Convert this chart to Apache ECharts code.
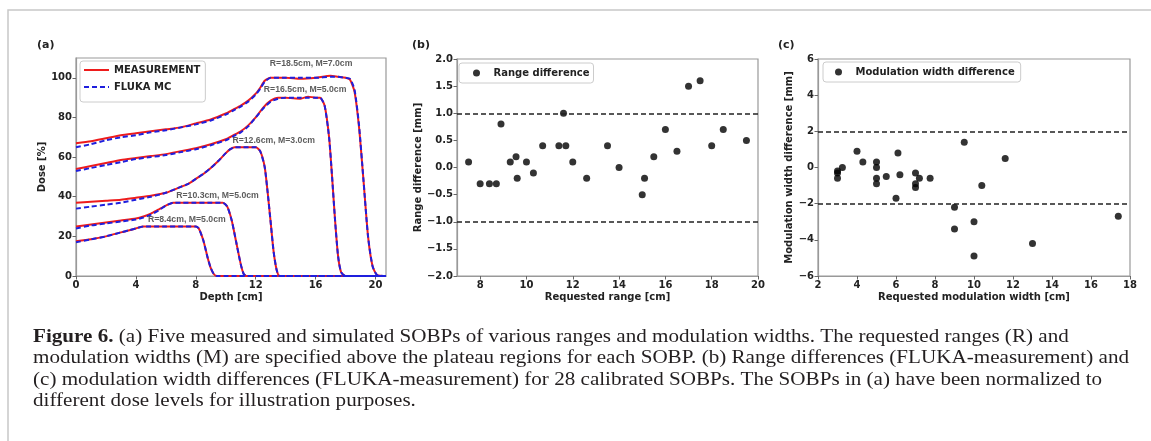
<!DOCTYPE html>
<html><head><meta charset="utf-8">
<script src="https://cdn.jsdelivr.net/npm/echarts@6/dist/echarts.min.js"></script>
<style>html,body{margin:0;padding:0;background:#fff}#c{width:1151px;height:441px}</style>
</head><body><div id="c"></div>
<script>
// ---------- Panel (a): SOBP depth-dose curves ----------
const depthA = [0,1,2,3,4,5,6,7,8,9,10,10.5,11,11.5,12,12.3,12.6,13,14,15,16,17,17.5,18,18.3,18.6,18.9,19.2,19.5,19.8,20.1,20.7];
const measA  = [67,68,69.5,71,72,73,74,75,77,79,82,84,86,88.5,92,95,98.5,100,100,99.5,100,101,100.5,100,99,93,75,48,20,5,0.5,0];
const flukaA = [65,66.5,68.5,70,71,72.5,73.5,75,76.5,78.5,81.5,83.5,85.5,88,91.5,94.5,98,100,100,100,100,100.5,100.5,100,99.5,94,76,48,20,5,0.5,0];

const depthB = [0,1,2,3,4,5,6,7,8,9,10,10.5,11,11.5,12,12.5,13,13.5,14,15,15.5,16,16.3,16.6,16.9,17.1,17.3,17.5,17.7,18,20.7];
const measB  = [54,55.5,57,58.5,59.5,60.5,61.5,63,64.5,66.5,69,71,73,76,80,85,88.5,90,90,89.5,90.5,90,90,86,70,50,28,10,2,0,0];
const flukaB = [53,54.5,56,57.5,59,60,61,62.5,64,66,68.5,70.5,72.5,75.5,80,84.5,88,89.5,90,90,90,90,90,86,70,50,28,10,2,0,0];

const depthC = [0,1,2,3,4,5,6,7,7.5,8,8.5,9,9.5,10,10.3,10.6,11,11.5,12,12.3,12.6,12.8,13,13.2,13.4,13.6,20.7];
const measC  = [37,37.5,38,38.5,39.5,40.5,42,45,46.5,49,51.5,54.5,58,62,64,65,65,65,65,63,55,42,27,12,3,0,0];
const flukaC = [34,35,36,37,38.5,40,42,45,46.5,49,51.5,54.5,58,62,64,65,65,65,65,63,55,42,27,12,3,0,0];

const depthD = [0,1,2,3,4,4.5,5,5.5,6,6.5,7,8,9,9.8,10.1,10.4,10.7,11,11.2,11.4,20.7];
const measD  = [25,26,27,28,29,30,31.5,33.5,35.5,37,37,37,37,37,35,28,17,6,1,0,0];
const flukaD = [24,25.5,26.5,27.5,28.5,29.5,31,33,35.5,37,37,37,37,37,35,28,17,6,1,0,0];

const depthE = [0,1,2,3,3.5,4,4.5,5,6,7,8,8.2,8.5,8.8,9.0,9.2,9.4,20.7];
const measE  = [17.5,18.5,20,22,23,24,25,25,25,25,25,24,18,9,4,1,0,0];
const flukaE = [17,18.5,20,22,23,24,25,25,25,25,25,24,18,9,4,1,0,0];

const sobpLabels = ['R=18.5cm, M=7.0cm','R=16.5cm, M=5.0cm','R=12.6cm, M=3.0cm','R=10.3cm, M=5.0cm','R=8.4cm, M=5.0cm'];
const sobpLabelDepth = [15.7,15.3,13.2,9.45,7.4];
const sobpLabelDose  = [107,94.3,68.3,40.4,28.6];

const depthTicks = [0,4,8,12,16,20];
const doseTicks  = [0,20,40,60,80,100];

// ---------- Panel (b): range differences ----------
const requestedRange = [7.5,8.0,8.4,8.7,8.9,9.3,9.55,9.6,10.0,10.3,10.7,11.4,11.6,11.7,12.0,12.6,13.5,14.0,15.0,15.1,15.5,16.0,16.5,17.0,17.5,18.0,18.5,19.5];
const rangeDiff      = [0.1,-0.3,-0.3,-0.3,0.8,0.1,0.2,-0.2,0.1,-0.1,0.4,0.4,1.0,0.4,0.1,-0.2,0.4,0.0,-0.5,-0.2,0.2,0.7,0.3,1.5,1.6,0.4,0.7,0.5];
const rangeTol = [1,-1];
const rangeTicksX = [8,10,12,14,16,18,20];

// ---------- Panel (c): modulation width differences ----------
const requestedMod = [3.0,3.0,3.0,3.25,4.0,4.3,5.0,5.0,5.0,5.0,5.5,6.0,6.1,6.2,7.0,7.0,7.0,7.2,7.75,9.0,9.0,9.5,10.0,10.0,10.4,11.6,13.0,17.4];
const modDiff      = [-0.6,-0.3,-0.2,0.0,0.9,0.3,0.3,0.0,-0.6,-0.9,-0.5,-1.7,0.8,-0.4,-0.3,-0.9,-1.1,-0.6,-0.6,-2.2,-3.4,1.4,-3.0,-4.9,-1.0,0.5,-4.2,-2.7];
const modTol = [2,-2];

const captionLead = 'Figure 6.';
const captionLines = [
  ' (a) Five measured and simulated SOBPs of various ranges and modulation widths. The requested ranges (R) and',
  'modulation widths (M) are specified above the plateau regions for each SOBP. (b) Range differences (FLUKA-measurement) and',
  '(c) modulation width differences (FLUKA-measurement) for 28 calibrated SOBPs. The SOBPs in (a) have been normalized to',
  'different dose levels for illustration purposes.'
];

// ---------- build ----------
const FONT = 'DejaVu Sans';
const TXT = '#222';
const AX = '#999';
const zip = (xs, ys) => xs.map((x, i) => [x, ys[i]]);
const minus = s => s.replace('-', '\u2212');

const curves = [[depthA,measA,flukaA],[depthB,measB,flukaB],[depthC,measC,flukaC],[depthD,measD,flukaD],[depthE,measE,flukaE]];
const series = [];
curves.forEach(([d,m,f]) => {
  series.push({type:'line', name:'MEASUREMENT', xAxisIndex:0, yAxisIndex:0, data:zip(d,m), symbol:'none', smooth:0.2,
    lineStyle:{color:'#ee1c1c', width:2}, itemStyle:{color:'#ee1c1c'}, z:2});
});
curves.forEach(([d,m,f]) => {
  series.push({type:'line', name:'FLUKA MC', xAxisIndex:0, yAxisIndex:0, data:zip(d,f), symbol:'none', smooth:0.2,
    lineStyle:{color:'#1f1fdd', width:2, type:[5,3]}, itemStyle:{color:'#1f1fdd'}, z:3});
});
series.push({type:'scatter', name:'labels', xAxisIndex:0, yAxisIndex:0, symbolSize:0, silent:true,
  data: sobpLabels.map((t,i)=>({name:t, value:[sobpLabelDepth[i], sobpLabelDose[i]]})),
  label:{show:true, position:'inside', formatter:'{b}', fontFamily:'Liberation Sans', fontWeight:'bold', fontSize:8.7, color:'#333'}, z:5});

const dashLine = {type:[5,3], color:'#222', width:1.5};
series.push({type:'scatter', name:'Range difference', xAxisIndex:1, yAxisIndex:1, data:zip(requestedRange, rangeDiff),
  symbolSize:7, itemStyle:{color:'#000'},
  markLine:{silent:true, symbol:'none', label:{show:false}, lineStyle:dashLine, data:rangeTol.map(v=>({yAxis:v}))}});
series.push({type:'scatter', name:'Modulation width difference', xAxisIndex:2, yAxisIndex:2, data:zip(requestedMod, modDiff),
  symbolSize:7, itemStyle:{color:'#000'},
  markLine:{silent:true, symbol:'none', label:{show:false}, lineStyle:dashLine, data:modTol.map(v=>({yAxis:v}))}});

const grids = [
  {left:76, top:58, width:310, height:218},
  {left:457, top:59, width:301, height:217},
  {left:818, top:59, width:312, height:217}
].map(g => Object.assign(g, {show:true, borderColor:AX, borderWidth:1.2}));

const lblStyle = {fontFamily:FONT, fontWeight:'bold', fontSize:10, color:TXT, margin:4};
const nameStyle = {fontFamily:FONT, fontWeight:'bold', fontSize:10, color:TXT};
const tickStyle = {color:'#666'};
function axisBase(extra) {
  return Object.assign({
    type:'value', splitLine:{show:false},
    axisLine:{show:true, onZero:false, lineStyle:{color:AX, width:1.2}},
    axisTick:{show:true, length:3.5, lineStyle:tickStyle},
    axisLabel:Object.assign({}, lblStyle),
    nameTextStyle:nameStyle, nameLocation:'middle'
  }, extra);
}
const xAxes = [
  axisBase({gridIndex:0, min:0, max:20.7, name:'Depth [cm]', nameGap:16,
    axisLabel:Object.assign({}, lblStyle, {customValues:depthTicks}), axisTick:{show:true, length:3.5, lineStyle:tickStyle, customValues:depthTicks}}),
  axisBase({gridIndex:1, min:7, max:20, name:'Requested range [cm]', nameGap:16,
    axisLabel:Object.assign({}, lblStyle, {customValues:rangeTicksX}), axisTick:{show:true, length:3.5, lineStyle:tickStyle, customValues:rangeTicksX}}),
  axisBase({gridIndex:2, min:2, max:18, interval:2, name:'Requested modulation width [cm]', nameGap:16})
];
const yAxes = [
  axisBase({gridIndex:0, min:0, max:110, name:'Dose [%]', nameGap:28,
    axisLabel:Object.assign({}, lblStyle, {customValues:doseTicks}), axisTick:{show:true, length:3.5, lineStyle:tickStyle, customValues:doseTicks}}),
  axisBase({gridIndex:1, min:-2, max:2, interval:0.5, name:'Range difference [mm]', nameGap:34,
    axisLabel:Object.assign({}, lblStyle, {formatter:v=>minus(v.toFixed(1))})}),
  axisBase({gridIndex:2, min:-6, max:6, interval:2, name:'Modulation width difference [mm]', nameGap:24,
    axisLabel:Object.assign({}, lblStyle, {formatter:v=>minus(String(v))})})
];

const legBase = {orient:'vertical', backgroundColor:'#fff', borderColor:'#ccc', borderWidth:1, borderRadius:3,
  textStyle:{fontFamily:FONT, fontWeight:'bold', fontSize:10, color:TXT}, selectedMode:false};
const legends = [
  Object.assign({}, legBase, {left:80, top:61, data:['MEASUREMENT','FLUKA MC'], itemWidth:25, itemHeight:10, itemGap:7,
    padding:[4,5,10,3], itemStyle:{opacity:0}}),
  Object.assign({}, legBase, {left:459, top:63, data:['Range difference'], icon:'circle', itemWidth:24, itemHeight:7, padding:[5,4,5,14]}),
  Object.assign({}, legBase, {left:823, top:62, data:['Modulation width difference'], icon:'circle', itemWidth:24, itemHeight:7, padding:[5,6,5,12]})
];

// caption scaling
const CAP_FONT = '"Liberation Serif", serif';
const CAP_SIZE = 18;
const mctx = document.createElement('canvas').getContext('2d');
mctx.font = CAP_SIZE + 'px ' + CAP_FONT;
const capScale = 1096 / mctx.measureText(captionLines[1]).width;
const capY = [337, 358.5, 380, 401.5];
const graphics = [
  {type:'rect', shape:{x:8, y:10, width:1300, height:600}, style:{fill:'none', stroke:'#c8c8c8', lineWidth:1.5}, silent:true, z:-10},
  {type:'text', x:37, y:45, style:{text:'(a)', font:'bold 11px "DejaVu Sans"', fill:TXT, verticalAlign:'middle'}},
  {type:'text', x:412, y:45, style:{text:'(b)', font:'bold 11px "DejaVu Sans"', fill:TXT, verticalAlign:'middle'}},
  {type:'text', x:778, y:45, style:{text:'(c)', font:'bold 11px "DejaVu Sans"', fill:TXT, verticalAlign:'middle'}}
];
captionLines.forEach((t, i) => {
  graphics.push({type:'text', x:33, y:capY[i], scaleX:capScale, style:{
    text: i === 0 ? '{b|' + captionLead + '}' + t : t,
    fontFamily:CAP_FONT, fontSize:CAP_SIZE, fill:'#231f20', verticalAlign:'middle',
    rich: i === 0 ? {b:{fontWeight:'bold', fontFamily:CAP_FONT, fontSize:CAP_SIZE, fill:'#231f20'}} : undefined
  }});
});

const chart = echarts.init(document.getElementById('c'), null, {renderer:'canvas'});
chart.setOption({
  animation:false, backgroundColor:'#fff',
  grid:grids, xAxis:xAxes, yAxis:yAxes, legend:legends, series:series, graphic:graphics
});
</script></body></html>
